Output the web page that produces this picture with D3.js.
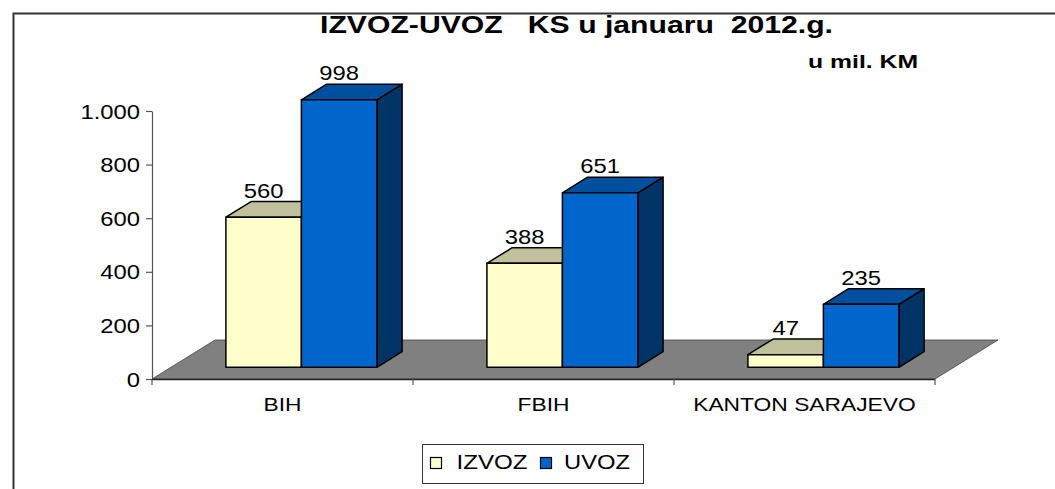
<!DOCTYPE html>
<html>
<head>
<meta charset="utf-8">
<script src="https://cdn.jsdelivr.net/npm/d3@7/dist/d3.min.js"></script>
<style>
  html, body { margin: 0; padding: 0; background: #fff; }
  svg { display: block; }
  text { font-family: "Liberation Sans", Arial, sans-serif; fill: #000; }
</style>
</head>
<body>
<script>
// ---- data ----
const categories = ["BIH", "FBIH", "KANTON SARAJEVO"];
const seriesNames = ["IZVOZ", "UVOZ"];
const izvoz = [560, 388, 47];
const uvoz = [998, 651, 235];
const yTicks = [0, 200, 400, 600, 800, 1000];
const titleText = "IZVOZ-UVOZ   KS u januaru  2012.g.";
const unitText = "u mil. KM";

const seriesValues = { IZVOZ: izvoz, UVOZ: uvoz };
const colors = {
  IZVOZ: { front: "#FFFFCC", top: "#C0C09C", side: "#9C9C78" },
  UVOZ:  { front: "#0066CC", top: "#004F9E", side: "#003366" }
};

const W = 1055, H = 489;
const svg = d3.select("body").append("svg").attr("width", W).attr("height", H);
svg.append("rect").attr("width", W).attr("height", H).attr("fill", "#fff");

// horizontally stretch text glyphs (the reference renders a wide sans)
function stretch(sel, k) {
  sel.each(function () {
    const n = this.getComputedTextLength();
    d3.select(this).attr("textLength", n * k).attr("lengthAdjust", "spacingAndGlyphs");
  });
}

// outer chart border (extends past the viewport on right/bottom)
svg.append("rect").attr("x", 13.5).attr("y", 13.5).attr("width", 1100).attr("height", 600)
  .attr("fill", "none").attr("stroke", "#333").attr("stroke-width", 2);

// ---- scales ----
const pIn = 0.4215;
const x0 = d3.scaleBand().domain(categories).range([152, 935]).paddingInner(pIn).paddingOuter(pIn / 2);
const x1 = d3.scaleBand().domain(seriesNames).range([0, x0.bandwidth()]);
const y = d3.scaleLinear().domain([0, 1000]).range([379, 111]);

const depth = { dx: 63, dy: -39 };
const fFront = 0.3, fBar = 0.4;
const offX = depth.dx * fFront, offY = depth.dy * fFront;
const bdx = depth.dx * fBar, bdy = depth.dy * fBar;

// ---- floor ----
const [rx0, rx1] = x0.range();
const floorPts = [[rx0, y(0)], [rx1, y(0)], [rx1 + depth.dx, y(0) + depth.dy], [rx0 + depth.dx, y(0) + depth.dy]];
svg.append("polygon").attr("points", floorPts.map(p => p.join(",")).join(" "))
  .attr("fill", "#808080").attr("stroke", "#444").attr("stroke-width", 0.8);

// ---- axes ----
const fmt = d3.formatLocale({ decimal: ",", thousands: ".", grouping: [3], currency: ["", ""] }).format(",d");
const yAxis = svg.append("g").attr("transform", "translate(152,0)")
  .call(d3.axisLeft(y).tickValues(yTicks).tickSize(6).tickSizeOuter(0).tickFormat(fmt));
yAxis.select(".domain").attr("stroke", "#555").attr("stroke-width", 1.2);
yAxis.selectAll(".tick line").attr("stroke", "#555").attr("stroke-width", 1.2);
yAxis.selectAll(".tick text").attr("x", -12).attr("dy", "0.35em")
  .style("font-family", '"Liberation Sans", Arial, sans-serif').style("font-size", "20px")
  .attr("fill", "#000");
stretch(yAxis.selectAll(".tick text"), 1.19);

// bottom axis line with ticks at band boundaries
const step = x0.step();
const bounds = categories.map(c => x0(c) - step * pIn / 2).concat([rx1]);
const xAxis = svg.append("g");
xAxis.append("line").attr("x1", rx0).attr("x2", rx1).attr("y1", y(0) + 0.5).attr("y2", y(0) + 0.5)
  .attr("stroke", "#222").attr("stroke-width", 1.6);
xAxis.selectAll("line.tk").data(bounds).join("line").attr("class", "tk")
  .attr("x1", d => d).attr("x2", d => d).attr("y1", y(0)).attr("y2", y(0) + 6)
  .attr("stroke", "#555").attr("stroke-width", 1.2);
const catText = xAxis.selectAll("text").data(categories).join("text")
  .attr("x", d => x0(d) + x0.bandwidth() / 2).attr("y", 411)
  .attr("text-anchor", "middle").style("font-size", "19px")
  .text(d => d);
stretch(catText, 1.2);

// ---- bars ----
const bw = x1.bandwidth();
categories.forEach((c, ci) => {
  seriesNames.forEach(s => {
    const v = seriesValues[s][ci];
    const xl = x0(c) + x1(s) + offX, xr = xl + bw;
    const yb = y(0) + offY, yt = y(v) + offY;
    const g = svg.append("g").attr("stroke", "#000").attr("stroke-width", 1.5).attr("stroke-linejoin", "round");
    g.append("polygon").attr("fill", colors[s].side)
      .attr("points", [[xr, yt], [xr + bdx, yt + bdy], [xr + bdx, yb + bdy], [xr, yb]].map(p => p.join(",")).join(" "));
    g.append("polygon").attr("fill", colors[s].top)
      .attr("points", [[xl, yt], [xr, yt], [xr + bdx, yt + bdy], [xl + bdx, yt + bdy]].map(p => p.join(",")).join(" "));
    g.append("rect").attr("fill", colors[s].front).attr("x", xl).attr("y", yt).attr("width", bw).attr("height", yb - yt);
  });
});

// value labels
const valLabels = [];
categories.forEach((c, ci) => {
  seriesNames.forEach(s => {
    const v = seriesValues[s][ci];
    const xl = x0(c) + x1(s) + offX;
    valLabels.push(svg.append("text").attr("x", xl + bw / 2).attr("y", y(v) + offY + bdy - 4)
      .attr("text-anchor", "middle").style("font-size", "20px")
      .text(v).node());
  });
});
stretch(d3.selectAll(valLabels), 1.19);

// ---- titles ----
svg.append("text").attr("x", 320).attr("y", 33).attr("xml:space", "preserve")
  .style("white-space", "pre").style("font-size", "23px").style("font-weight", "bold")
  .attr("textLength", 513).attr("lengthAdjust", "spacingAndGlyphs").text(titleText);
svg.append("text").attr("x", 808).attr("y", 67.5)
  .style("font-size", "17.5px").style("font-weight", "bold")
  .attr("textLength", 110).attr("lengthAdjust", "spacingAndGlyphs").text(unitText);

// ---- legend ----
const lg = svg.append("g");
lg.append("rect").attr("x", 422.5).attr("y", 444.5).attr("width", 221).attr("height", 39)
  .attr("fill", "#fff").attr("stroke", "#333").attr("stroke-width", 1);
const legendPos = { IZVOZ: { sx: 430.5, tx: 456.5, tl: 71 }, UVOZ: { sx: 540.5, tx: 564, tl: 66 } };
seriesNames.forEach(s => {
  const p = legendPos[s];
  lg.append("rect").attr("x", p.sx).attr("y", 457.5).attr("width", 11).attr("height", 11)
    .attr("fill", colors[s].front).attr("stroke", "#000").attr("stroke-width", 1.2);
  lg.append("text").attr("x", p.tx).attr("y", 468.5).style("font-size", "21px")
    .attr("textLength", p.tl).attr("lengthAdjust", "spacingAndGlyphs").text(s);
});
</script>
</body>
</html>
